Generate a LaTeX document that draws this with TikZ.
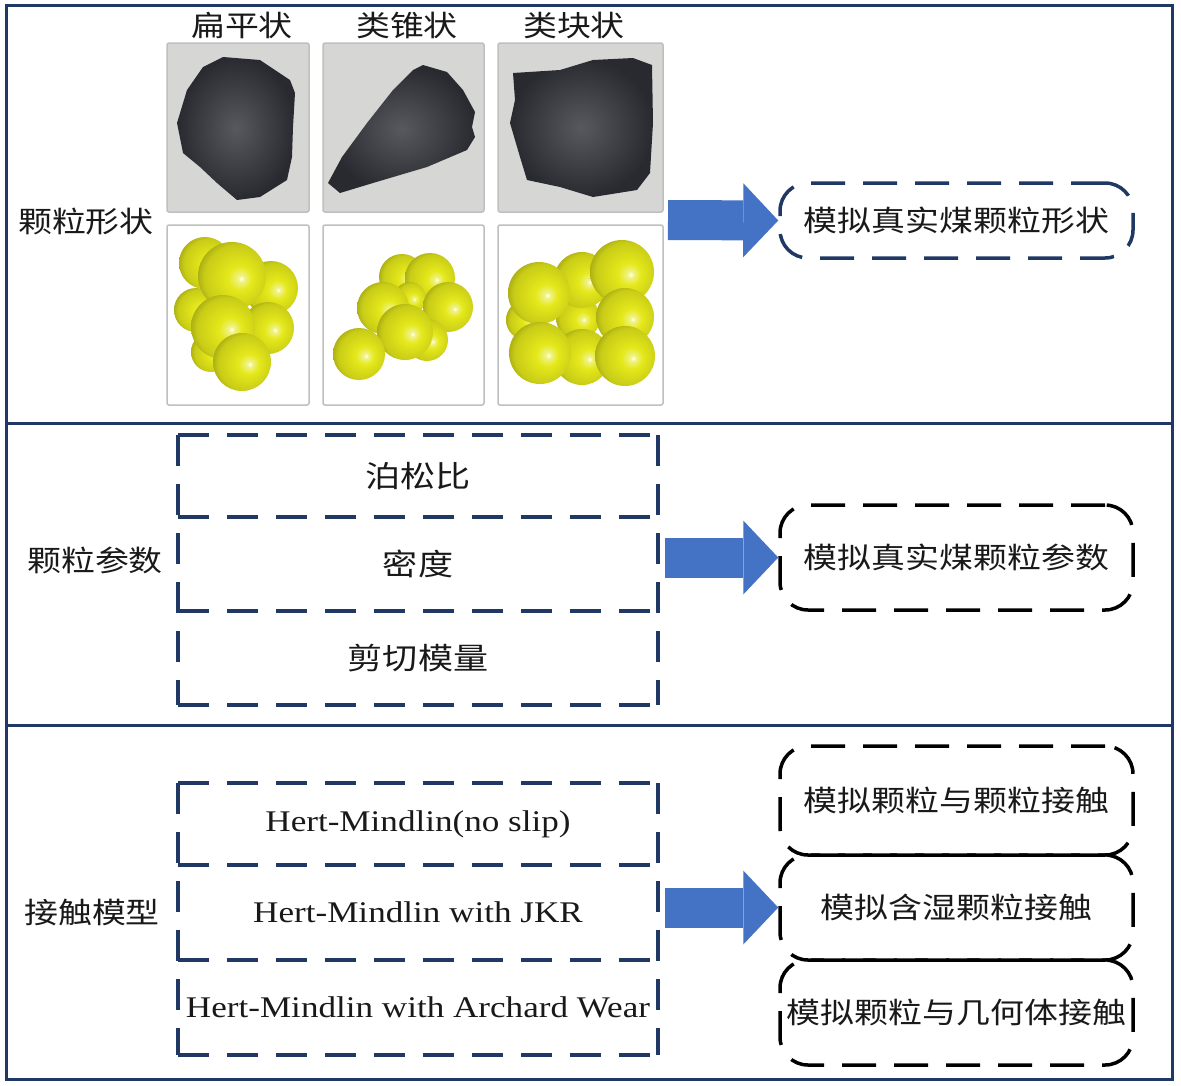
\documentclass[tikz,border=0pt]{standalone}
\usepackage{fontspec}
\setmainfont[FakeStretch=1.17]{Liberation Serif}
\newfontfamily\cjk[FakeStretch=1.17]{Noto Sans CJK SC}
\usetikzlibrary{arrows.meta}
\definecolor{navy}{RGB}{31,56,100}
\definecolor{arrowblue}{RGB}{68,114,196}
\definecolor{ylw}{RGB}{228,232,26}
\definecolor{coal}{RGB}{40,42,48}
\definecolor{photobg}{RGB}{214,214,212}
\pgfdeclareradialshading{yball}{\pgfpoint{7bp}{-2bp}}{color(0bp)=(white); color(2.5bp)=(ylw!55!white); color(9bp)=(ylw); color(24bp)=(ylw!88!black); color(31bp)=(ylw!68!black); color(50bp)=(ylw!60!black)}
\newcommand\stackframe[3]{%
\draw[boxline] (#1.north west) -- (#1.north east);
\draw[boxline] (#1.north west) -- (#3.south west);
\draw[boxline] (#1.north east) -- (#3.south east);
\foreach \b in {#1,#2,#3} \draw[boxline] (\b.south west) -- (\b.south east);}
\begin{document}
\begin{tikzpicture}[x=1pt,y=-1pt,
  panel/.style={draw=navy, line width=3pt},
  cn/.style={font=\cjk\fontsize{29}{32}\selectfont, inner sep=0pt, text=black!90},
  en/.style={font=\fontsize{30}{34}\selectfont, inner sep=0pt, text=black!90},
  photo/.style={draw=black!25, line width=1.5pt, rounded corners=2pt, inner sep=0pt},
  parbox/.style={minimum width=480pt, inner sep=0pt},
  boxline/.style={navy, line width=3.5pt, dash pattern=on 31pt off 18pt},
  sim/.style={cn, draw, line width=3.5pt, dash pattern=on 34pt off 18pt, rounded corners=28pt, minimum width=353pt},
  sphere/.style={shading=yball},
  rock/.style={inner color=coal!78!white, outer color=coal},
  bigarrow/.style={draw=arrowblue, line width=40pt, -{Triangle[length=35pt,width=74pt,line width=0pt]}}]
\useasboundingbox (0,0) rectangle (1181,1085);
\draw[panel] (6,5) rectangle (1172,1079);
\draw[panel] (6,423) -- (1172,423);
\draw[panel] (6,725) -- (1172,725);

\node[cn] (t1) at (242,25) {扁平状};
\node[cn] (t2) at (407,25) {类锥状};
\node[cn] (t3) at (574,25) {类块状};
\node[cn] (lab1) at (86,222) {颗粒形状};
\node[cn] (lab2) at (95,560) {颗粒参数};
\node[cn] (lab3) at (92,912) {接触模型};

\node[photo, fill=photobg, minimum width=142pt, minimum height=169pt] (ph1) at (238,127.5) {};
\node[photo, fill=photobg, minimum width=161pt, minimum height=169pt] (ph2) at (403.5,127.5) {};
\node[photo, fill=photobg, minimum width=165pt, minimum height=169pt] (ph3) at (580.5,127.5) {};
\node[photo, fill=white, minimum width=142pt, minimum height=180pt] (mod1) at (238,315) {};
\node[photo, fill=white, minimum width=161pt, minimum height=180pt] (mod2) at (403.5,315) {};
\node[photo, fill=white, minimum width=165pt, minimum height=180pt] (mod3) at (580.5,315) {};

\shade[rock] (223,57) -- (260,60) -- (290,80) -- (295,93) -- (293,127) -- (292,157) -- (287,180) -- (260,197) -- (237,200) -- (217,183) -- (200,167) -- (183,153) -- (177,123) -- (187,90) -- (203,67) -- cycle;
\shade[rock] (423,65) -- (447,72) -- (463,90) -- (475,112) -- (472,127) -- (475,137) -- (467,150) -- (427,167) -- (373,183) -- (340,193) -- (328,183) -- (342,157) -- (367,123) -- (393,90) -- (413,70) -- cycle;
\shade[rock] (513,73) -- (560,70) -- (593,60) -- (633,58) -- (652,65) -- (653,123) -- (650,173) -- (637,190) -- (593,197) -- (560,187) -- (527,180) -- (520,157) -- (510,123) -- (515,100) -- cycle;

\foreach \x/\y/\r in {205/263/26, 196/310/22, 211/352/20, 271/288/27, 268/328/26, 232/276/34, 223/327/32, 242/362/29}
  \shade[sphere] (\x,\y) circle (\r);
\foreach \x/\y/\r in {402/277/23, 430/278/25, 410/298/16, 383/308/26, 448/307/25, 427/340/21, 405/332/28, 359/354/26}
  \shade[sphere] (\x,\y) circle (\r);
\foreach \x/\y/\r in {526/320/20, 578/318/22, 582/280/28, 539/293/31, 622/272/32, 625/317/29, 582/357/28, 540/353/31, 625/356/30}
  \shade[sphere] (\x,\y) circle (\r);

\node[en, parbox, minimum height=82pt] (par1) at (418,476) {\cjk 泊松比};
\node[en, parbox, minimum height=94pt] (par2) at (418,564) {\cjk 密度};
\node[en, parbox, minimum height=94pt] (par3) at (418,658) {\cjk 剪切模量};
\node[en, parbox, minimum height=82pt] (con1) at (418,824) {Hert-Mindlin(no slip)};
\node[en, parbox, minimum height=95pt] (con2) at (418,912.5) {Hert-Mindlin with JKR};
\node[en, parbox, minimum height=95pt] (con3) at (418,1007.5) {Hert-Mindlin with Archard Wear};
\stackframe{par1}{par2}{par3}
\stackframe{con1}{con2}{con3}

\node[sim, draw=navy, minimum height=75pt] (sim1) at (956.5,220.5) {模拟真实煤颗粒形状};
\node[sim, minimum height=105pt] (sim2) at (956.5,557.5) {模拟真实煤颗粒参数};
\node[sim, minimum height=109pt] (sim3) at (956.5,800.5) {模拟颗粒与颗粒接触};
\node[sim, minimum height=105pt] (sim4) at (956.5,907.5) {模拟含湿颗粒接触};
\node[sim, minimum height=105pt] (sim5) at (956.5,1012.5) {模拟颗粒与几何体接触};

\coordinate (a1) at (668,220);
\draw[bigarrow] (a1) -- (sim1.west);
\draw[bigarrow] ([xshift=7pt]par2.east |- sim2.west) -- (sim2.west);
\draw[bigarrow] ([xshift=7pt]con2.east |- sim4.west) -- (sim4.west);
\end{tikzpicture}
\end{document}
